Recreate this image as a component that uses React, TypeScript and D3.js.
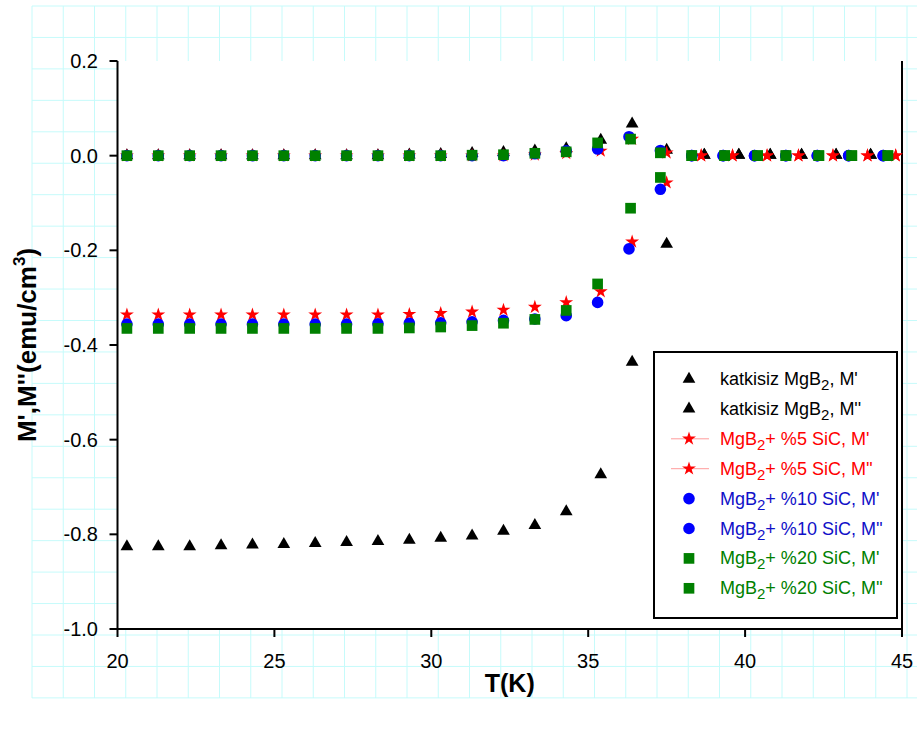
import React from "react";
import * as d3 from "d3";

// Temperatures (K) and magnetisation (emu/cm^3) for each sample
const blackT = [20.3, 21.3, 22.3, 23.3, 24.3, 25.3, 26.3, 27.3, 28.3, 29.3, 30.3, 31.3, 32.3, 33.3, 34.3, 35.4, 36.4, 37.5, 38.7, 39.8, 40.8, 41.8, 42.9, 44.0];
const blackM1 = [-0.826, -0.826, -0.826, -0.824, -0.822, -0.821, -0.819, -0.817, -0.815, -0.812, -0.808, -0.803, -0.793, -0.781, -0.752, -0.674, -0.436, -0.187, 0.001, 0.001, 0.001, 0.001, 0.001, 0.001];
const blackM2 = [0, 0, 0, 0, 0, 0, 0, 0, 0, 0.002, 0.003, 0.005, 0.007, 0.01, 0.015, 0.033, 0.067, 0.012, 0.001, 0.001, 0.001, 0.001, 0.001, 0.001];

const redT = [20.3, 21.3, 22.3, 23.3, 24.3, 25.3, 26.3, 27.3, 28.3, 29.3, 30.3, 31.3, 32.3, 33.3, 34.3, 35.4, 36.4, 37.5, 38.6, 39.6, 40.7, 41.7, 42.8, 43.9, 44.8];
const redM1 = [-0.336, -0.336, -0.336, -0.336, -0.336, -0.336, -0.336, -0.336, -0.336, -0.335, -0.333, -0.33, -0.326, -0.32, -0.31, -0.287, -0.182, -0.057, 0, 0, 0, 0, 0, 0, 0];
const redM2 = [0, 0, 0, 0, 0, 0, 0, 0, 0, 0, 0, 0, 0, 0.002, 0.005, 0.01, 0.035, 0.006, 0, 0, 0, 0, 0, 0, 0];

const blueT = [20.3, 21.3, 22.3, 23.3, 24.3, 25.3, 26.3, 27.3, 28.3, 29.3, 30.3, 31.3, 32.3, 33.3, 34.3, 35.3, 36.3, 37.3, 38.3, 39.3, 40.3, 41.3, 42.3, 43.3, 44.4];
const blueM1 = [-0.356, -0.356, -0.356, -0.356, -0.356, -0.356, -0.356, -0.356, -0.355, -0.354, -0.353, -0.351, -0.348, -0.345, -0.338, -0.31, -0.197, -0.071, 0, 0, 0, 0, 0, 0, 0];
const blueM2 = [0, 0, 0, 0, 0, 0, 0, 0, 0, 0, 0, 0, 0, 0.004, 0.01, 0.014, 0.04, 0.011, 0, 0, 0, 0, 0, 0, 0];

const greenT = [20.3, 21.3, 22.3, 23.3, 24.3, 25.3, 26.3, 27.3, 28.3, 29.3, 30.3, 31.3, 32.3, 33.3, 34.3, 35.3, 36.35, 37.3, 38.3, 39.35, 40.4, 41.3, 42.35, 43.4, 44.55];
const greenM1 = [-0.365, -0.365, -0.365, -0.365, -0.365, -0.365, -0.365, -0.365, -0.365, -0.364, -0.362, -0.359, -0.354, -0.346, -0.327, -0.271, -0.111, -0.046, 0, 0, 0, 0, 0, 0, 0];
const greenM2 = [0, 0, 0, 0, 0, 0, 0, 0, 0, 0, 0, 0.001, 0.002, 0.005, 0.008, 0.027, 0.035, 0.006, 0, 0, 0, 0, 0, 0, 0];

const xTicks = [20, 25, 30, 35, 40, 45];
const xTickLabels = ["20", "25", "30", "35", "40", "45"];
const yTicks = [0.2, 0, -0.2, -0.4, -0.6, -0.8, -1.0];
const yTickLabels = ["0.2", "0.0", "-0.2", "-0.4", "-0.6", "-0.8", "-1.0"];

const legendPrefix = ["katkisiz MgB", "katkisiz MgB", "MgB", "MgB", "MgB", "MgB", "MgB", "MgB"];
const legendSuffix = [", M'", ", M''", "+ %5 SiC, M'", "+ %5 SiC, M''", "+ %10 SiC, M'", "+ %10 SiC, M''", "+ %20 SiC, M'", "+ %20 SiC, M''"];

const W = 917;
const H = 729;
const FONT = "'Liberation Sans', Arial, Helvetica, sans-serif";

type Series = {
  t: number[];
  m: number[];
  shape: d3.SymbolType;
  size: number;
  fill: string;
  text: string;
  line: boolean;
};

const styles = {
  black: { shape: d3.symbolTriangle, size: 70, fill: "#000000", text: "#000000", line: false },
  red: { shape: d3.symbolStar, size: 60, fill: "#ff0000", text: "#ff0000", line: true },
  blue: { shape: d3.symbolCircle, size: 106, fill: "#0000ff", text: "#1010c8", line: false },
  green: { shape: d3.symbolSquare, size: 114, fill: "#008000", text: "#008000", line: false },
};

const series: Series[] = [
  { t: blackT, m: blackM1, ...styles.black },
  { t: blackT, m: blackM2, ...styles.black },
  { t: redT, m: redM1, ...styles.red },
  { t: redT, m: redM2, ...styles.red },
  { t: blueT, m: blueM1, ...styles.blue },
  { t: blueT, m: blueM2, ...styles.blue },
  { t: greenT, m: greenM1, ...styles.green },
  { t: greenT, m: greenM2, ...styles.green },
];

export default function App() {
  const left = 117.5;
  const right = 902;
  const top = 61;
  const bottom = 629;

  const x = d3.scaleLinear().domain([20, 45]).range([left, right]);
  const y = d3.scaleLinear().domain([-1, 0.2]).range([bottom, top]);

  // graph-paper background
  const gridX = d3.range(32, 918, 31.25);
  const gridY = d3.range(6, 700, 31.45);

  const sym = (s: Series) => d3.symbol().type(s.shape).size(s.size)() as string;

  const legX = 654;
  const legY = 352;
  const legW = 243;
  const legH = 266;
  const rowY = (i: number) => 379 + i * 29.9;

  return (
    <svg
      width={W}
      height={H}
      style={{ position: "absolute", left: 0, top: 0, background: "#ffffff" }}
      fontFamily={FONT}
    >
      <g stroke="#c6fbfb" strokeWidth={1}>
        {gridX.map((gx, i) => (
          <line key={"gx" + i} x1={gx} x2={gx} y1={6} y2={698} />
        ))}
        {gridY.map((gy, i) => (
          <line key={"gy" + i} x1={32} x2={W} y1={gy} y2={gy} />
        ))}
      </g>

      <rect x={left} y={top} width={right - left} height={bottom - top} fill="#ffffff" />

      {/* axes */}
      <g stroke="#000000" strokeWidth={2} fill="none">
        <line x1={left} x2={left} y1={top} y2={bottom} />
        <line x1={right} x2={right} y1={top} y2={bottom} />
        <line x1={left} x2={right} y1={bottom} y2={bottom} />
        {yTicks.map((v, i) => (
          <line key={"yt" + i} x1={left - 8} x2={left} y1={y(v)} y2={y(v)} />
        ))}
        {xTicks.map((v, i) => (
          <line key={"xt" + i} x1={x(v)} x2={x(v)} y1={bottom} y2={bottom + 8} />
        ))}
      </g>
      <g fontSize={20} fill="#000000">
        {yTicks.map((v, i) => (
          <text key={"yl" + i} x={98} y={y(v) + 7} textAnchor="end">
            {yTickLabels[i]}
          </text>
        ))}
        {xTicks.map((v, i) => (
          <text key={"xl" + i} x={x(v)} y={668} textAnchor="middle">
            {xTickLabels[i]}
          </text>
        ))}
      </g>
      <text x={(left + right) / 2} y={692} textAnchor="middle" fontSize={25} fontWeight="bold">
        T(K)
      </text>
      <text
        transform={`translate(36, ${(top + bottom) / 2}) rotate(-90)`}
        textAnchor="middle"
        fontSize={26}
        fontWeight="bold"
      >
        M',M''(emu/cm
        <tspan fontSize={17} dy={-11}>3</tspan>
        <tspan dy={11}>)</tspan>
      </text>

      {/* data points */}
      {series.map((s, si) => (
        <g key={"s" + si} fill={s.fill}>
          {s.t.map((t, i) => (
            <path key={i} d={sym(s)} transform={`translate(${x(t)},${y(s.m[i])})`} />
          ))}
        </g>
      ))}

      {/* legend */}
      <rect x={legX} y={legY} width={legW} height={legH} fill="#ffffff" stroke="#000000" strokeWidth={2} />
      {series.map((s, i) => (
        <g key={"lg" + i}>
          {s.line && (
            <line x1={671} x2={709} y1={rowY(i)} y2={rowY(i)} stroke="#ff9c9c" strokeWidth={1} />
          )}
          <path d={sym(s)} transform={`translate(689,${rowY(i)})`} fill={s.fill} />
          <text x={720} y={rowY(i) + 6} fontSize={18} fill={s.text}>
            {legendPrefix[i]}
            <tspan fontSize={15} dy={5}>2</tspan>
            <tspan dy={-5}>{legendSuffix[i]}</tspan>
          </text>
        </g>
      ))}
    </svg>
  );
}
